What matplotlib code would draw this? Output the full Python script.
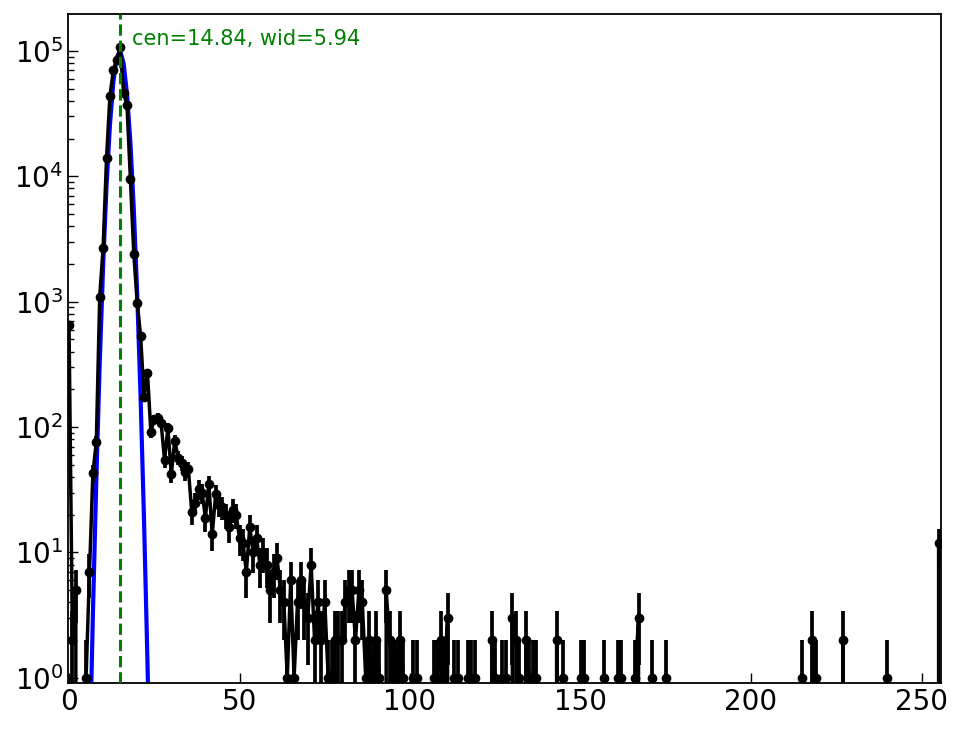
import numpy as np
import matplotlib
matplotlib.use("Agg")
import matplotlib.pyplot as plt

# histogram counts, one per integer value 0..255
counts = [
    650, 2, 5, 0, 0, 1, 7, 43, 76, 1100,                    # 0-9
    2700, 14000, 44000, 70000, 85000, 107000, 46000, 37000, 9500, 2400,  # 10-19
    980, 530, 175, 270, 92, 115, 118, 108, 55, 98,          # 20-29
    42, 78, 57, 52, 44, 46, 21, 25, 32, 30,                 # 30-39
    19, 35, 14, 29, 24, 23, 20, 16, 22, 20,                 # 40-49
    13, 12, 7, 16, 10, 13, 8, 10, 8, 5,                     # 50-59
    7, 9, 5, 4, 1, 6, 1, 4, 6, 4,                           # 60-69
    3, 8, 2, 4, 2, 4, 1, 1, 2, 2,                           # 70-79
    2, 4, 5, 5, 2, 5, 4, 1, 2, 1,                           # 80-89
    2, 1, 0, 5, 2, 1, 1, 2, 1, 0,                           # 90-99
    0, 1, 1, 0, 0, 0, 0, 1, 1, 2,                           # 100-109
    1, 3, 0, 1, 1, 0, 0, 1, 1, 1,                           # 110-119
    0, 0, 0, 0, 2, 1, 0, 1, 1, 0,                           # 120-129
    3, 2, 1, 0, 2, 1, 1, 1, 0, 0,                           # 130-139
    0, 0, 0, 2, 0, 1, 0, 0, 0, 0,                           # 140-149
    1, 1, 0, 0, 0, 0, 0, 1, 0, 0,                           # 150-159
    0, 1, 1, 0, 0, 0, 1, 3, 0, 0,                           # 160-169
    0, 1, 0, 0, 0, 1, 0, 0, 0, 0,                           # 170-179
    0, 0, 0, 0, 0, 0, 0, 0, 0, 0,                           # 180-189
    0, 0, 0, 0, 0, 0, 0, 0, 0, 0,                           # 190-199
    0, 0, 0, 0, 0, 0, 0, 0, 0, 0,                           # 200-209
    0, 0, 0, 0, 0, 1, 0, 0, 2, 1,                           # 210-219
    0, 0, 0, 0, 0, 0, 0, 2, 0, 0,                           # 220-229
    0, 0, 0, 0, 0, 0, 0, 0, 0, 0,                           # 230-239
    1, 0, 0, 0, 0, 0, 0, 0, 0, 0,                           # 240-249
    0, 0, 0, 0, 0, 12,                                      # 250-255
]

# fit parameters shown on the chart
fit_amp = 1.0e5
fit_cen = 14.84
fit_wid = 5.94

x = np.arange(len(counts))
y = np.array(counts, dtype=float)
yerr = np.sqrt(y)
best_fit = fit_amp * np.exp(-(x - fit_cen) ** 2 / fit_wid)

fig = plt.figure(figsize=(9.64, 7.29), dpi=100)
ax = fig.add_axes([68 / 964, 1 - 683 / 729, (941 - 68) / 964, (683 - 14) / 729])

ax.plot(x, best_fit, color='blue', lw=3, zorder=2)
ax.errorbar(x, y, yerr=yerr, fmt='o-', color='black', ms=6, lw=2.5,
            elinewidth=2.7, capsize=0, zorder=3)
ax.axvline(fit_cen, color='green', ls='--', lw=2.2, zorder=4)

ax.set_yscale('log')
ax.set_ylim(0.91, 1.97e5)
ax.set_xlim(-0.3, 255.7)

ax.text(18.5, 1.25e5, f'cen={fit_cen:.2f}, wid={fit_wid:.2f}',
        color='green', fontsize=15, va='center', ha='left')

ax.tick_params(which='both', direction='in', top=False, right=False,
               labelsize=20)
ax.tick_params(which='major', length=7, width=1)
ax.tick_params(which='minor', length=4, width=1)
for sp in ax.spines.values():
    sp.set_linewidth(1.3)

fig.savefig('out.png', dpi=100)
